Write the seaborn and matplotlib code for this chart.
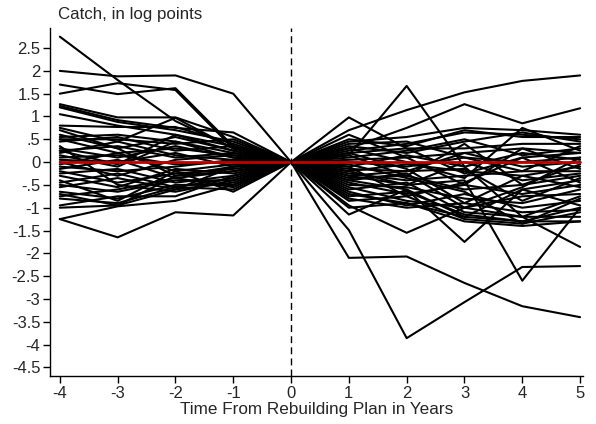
import numpy as np
import pandas as pd
import matplotlib
matplotlib.use("Agg")
import matplotlib.pyplot as plt
import seaborn as sns
from matplotlib.ticker import FuncFormatter

# Event time relative to the rebuilding plan
years = [-4, -3, -2, -1, 0, 1, 2, 3, 4, 5]

# Stock-level catch (log points, normalised to 0 at year 0): years -4..-1
pre_plan = [
    [2.0, 1.88, 1.9, 1.5], [2.75, 1.8, 0.9, 0.3], [1.7, 1.49, 1.62, 0.35],
    [1.5, 1.73, 1.58, 0.3], [1.27, 0.98, 0.98, 0.55], [1.23, 0.92, 0.75, 0.65],
    [1.2, 0.88, 0.7, 0.45], [1.05, 0.8, 0.6, 0.35], [0.8, 0.77, 0.77, 0.4],
    [0.75, 0.45, 0.97, 0.3], [0.7, 0.3, 0.55, 0.25], [0.55, 0.6, 0.45, 0.2],
    [0.5, 0.5, 0.4, 0.5], [0.5, 0.2, 0.3, 0.15], [0.45, 0.55, 0.25, 0.35],
    [0.3, 0.1, 0.35, 0.1], [0.25, 0.35, 0.1, 0.2], [0.2, 0.45, 0.15, 0.05],
    [0.15, -0.1, 0.45, 0.1], [0.1, 0.15, -0.05, 0.0], [0.05, 0.0, 0.2, -0.1],
    [0.0, -0.3, 0.05, 0.15], [-0.05, 0.2, -0.2, -0.05], [-0.1, -0.2, -0.1, 0.05],
    [-0.15, 0.05, -0.35, -0.2], [-0.2, -0.45, -0.25, -0.15], [-0.25, -0.15, -0.45, -0.3],
    [-0.3, -0.55, -0.15, -0.25], [-0.45, -0.25, -0.55, -0.35], [-0.5, -0.65, -0.4, -0.4],
    [-0.55, -0.35, -0.6, -0.45], [-0.65, -0.8, -0.5, -0.5], [-0.7, -0.95, -0.3, -0.2],
    [-0.75, -0.6, -0.35, -0.55], [-0.8, -0.9, -0.55, -0.6], [-0.95, -0.75, -0.75, -0.3],
    [-1.0, -0.95, -0.6, -0.1], [-1.25, -1.65, -1.1, -1.17], [-1.25, -0.97, -0.85, -0.5],
    [0.35, -0.5, -0.65, -0.4], [-0.4, -0.85, -0.2, -0.65], [0.6, 0.3, -0.3, -0.1],
    [0.25, -0.05, 0.6, 0.25],
]

# Same stocks, years 1..5
post_plan = [
    [0.7, 1.14, 1.53, 1.78, 1.9], [0.3, 0.75, 1.27, 0.85, 1.18], [0.15, 1.67, -0.1, -1.2, -1.86],
    [0.98, 0.3, -0.25, 0.1, 0.2], [0.45, 0.55, 0.75, 0.7, 0.6], [0.5, 0.35, 0.7, 0.55, 0.55],
    [0.25, 0.4, 0.65, 0.6, 0.5], [0.35, 0.2, 0.45, 0.65, 0.45], [0.2, 0.3, 0.3, 0.4, 0.4],
    [0.1, 0.25, 0.5, 0.15, 0.3], [0.3, 0.0, -0.35, 0.75, 0.25], [0.05, 0.1, 0.2, 0.3, 0.2],
    [0.0, -0.1, 0.1, 0.0, 0.1], [-0.1, 0.15, -0.1, 0.2, 0.05], [-0.15, -0.2, 0.2, -0.1, 0.0],
    [0.15, -0.3, 0.4, -0.5, -0.05], [-0.2, -0.05, -0.2, -0.3, -0.1], [-0.25, -0.4, -0.3, -0.2, -0.2],
    [-0.3, -0.5, 0.0, -0.4, -0.25], [-0.35, -0.3, -0.6, -0.5, -0.3], [-0.4, -0.6, -1.75, -0.6, -0.4],
    [-0.2, -0.5, -0.4, -2.6, -1.0], [-0.45, -0.7, -0.5, -0.7, -0.5], [-0.5, -0.55, -0.8, -0.9, -0.6],
    [-0.55, -0.85, -1.0, -0.75, -0.7], [-0.6, -0.45, -1.1, -1.2, -0.75], [-0.65, -0.95, -0.7, -1.0, -0.85],
    [-0.7, -0.9, -1.2, -0.6, -0.95], [-0.75, -0.65, -1.15, -1.3, -1.0], [-0.8, -1.0, -0.9, -1.1, -1.05],
    [-0.85, -0.75, -1.25, -1.35, -1.1], [-0.95, -1.55, -1.0, -1.2, -1.2], [-1.0, -0.9, -1.3, -1.4, -1.3],
    [-1.15, -0.6, -1.2, -1.3, -1.3], [-1.49, -3.86, -3.07, -2.3, -2.28], [-2.1, -2.07, -2.65, -3.16, -3.4],
    [-0.3, -0.2, -0.15, -0.85, -0.35], [0.6, 0.1, -0.5, 0.3, -0.15], [-0.1, -0.75, -0.45, 0.1, -0.45],
    [0.2, -0.15, -0.9, -0.3, -0.55], [-0.05, -0.35, -0.65, -1.35, -0.8], [0.4, 0.45, 0.1, -0.2, 0.35],
    [-0.4, -0.25, -1.0, -0.55, 0.1],
]

y_ticks = [2.5, 2, 1.5, 1, 0.5, 0, -0.5, -1, -1.5, -2, -2.5, -3, -3.5, -4, -4.5]
x_ticks = years

rows = []
for sid, (pre, post) in enumerate(zip(pre_plan, post_plan)):
    for t, v in zip(years, pre + [0.0] + post):
        rows.append({"stock": sid, "year": t, "catch": v})
df = pd.DataFrame(rows)
baseline = pd.DataFrame({"year": years, "catch": [0.0] * len(years)})

sns.set_style("ticks")
plt.rcParams["font.family"] = ["Liberation Sans", "DejaVu Sans"]
plt.rcParams["axes.unicode_minus"] = False

fig = plt.figure(figsize=(5.96, 4.24), dpi=100)
ax = fig.add_axes([50 / 596, 1 - 376 / 424, 533 / 596, 348 / 424])

sns.lineplot(data=df, x="year", y="catch", units="stock", estimator=None,
             color="black", linewidth=1.5, ax=ax, legend=False)
sns.lineplot(data=baseline, x="year", y="catch", color="#c00000",
             linewidth=2.0, ax=ax, legend=False, zorder=5)
ax.axvline(0, color="black", linestyle=(0, (5, 3)), linewidth=1.0, zorder=6)

ax.set_xlim(-4.17, 5.05)
ax.set_ylim(-4.69, 2.94)
ax.set_xticks(x_ticks)
ax.set_yticks(y_ticks)


def stata_fmt(v, _pos):
    s = f"{v:g}"
    return s.replace("0.", ".")


ax.yaxis.set_major_formatter(FuncFormatter(stata_fmt))
ax.tick_params(axis="both", labelsize=12, length=5, width=1, color="black", pad=2)
for s in ["top", "right"]:
    ax.spines[s].set_visible(False)
for s in ["left", "bottom"]:
    ax.spines[s].set_color("black")
    ax.spines[s].set_linewidth(1.0)

ax.set_xlabel("Time From Rebuilding Plan in Years", fontsize=12.3, labelpad=1)
ax.set_ylabel("")
fig.text(58 / 596, 1 - 14 / 424, "Catch, in log points", fontsize=12.2,
         va="center", ha="left")

fig.savefig("out.png", dpi=100, facecolor="white")
